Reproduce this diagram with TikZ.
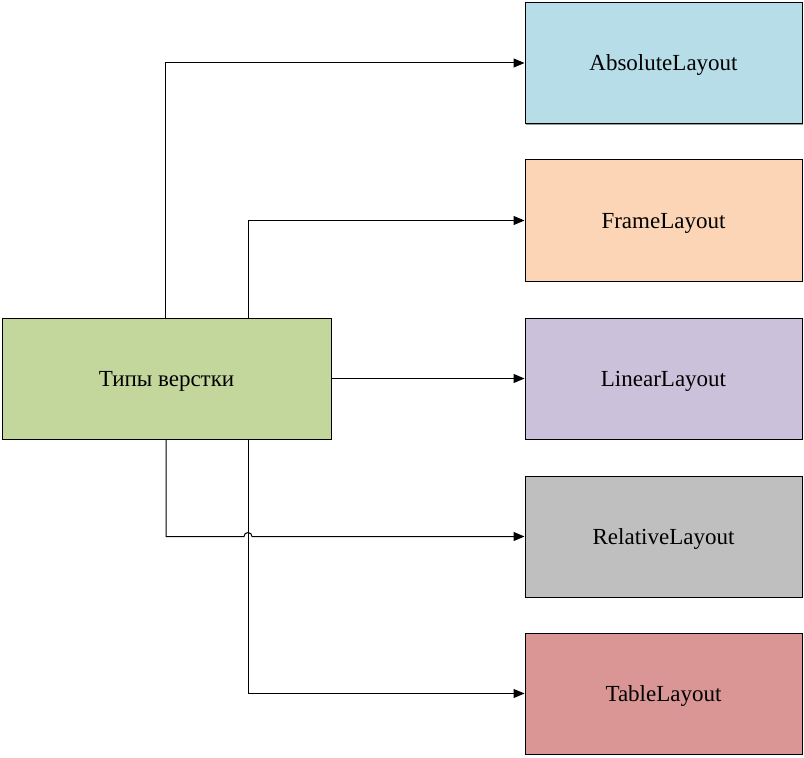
\documentclass[tikz,border=0pt]{standalone}
\usepackage{fontspec}
\setmainfont{Liberation Serif}
\usetikzlibrary{arrows.meta,shadows}
\definecolor{mainc}{HTML}{C3D69B}
\definecolor{absc}{HTML}{B7DDE8}
\definecolor{framec}{HTML}{FBD5B5}
\definecolor{linc}{HTML}{CCC1DA}
\definecolor{relc}{HTML}{BFBFBF}
\definecolor{tabc}{HTML}{D99694}
\tikzset{
	layoutbox/.style={draw=black,line width=0.5pt,minimum width=138.5pt,minimum height=60.5pt,inner sep=0pt,
		text height=10pt,text depth=2.5pt,font=\fontsize{11.5}{14}\selectfont,
		drop shadow={shadow xshift=0.6pt,shadow yshift=-0.6pt,fill=black!40,opacity=1}},
	link/.style={line width=0.5pt,black,-{Triangle[length=5.5pt,width=4.5pt]}}
}
\begin{document}
\begin{tikzpicture}[x=0.5pt,y=0.5pt]
	\useasboundingbox (0,0) rectangle (804,757);
	\node[layoutbox,fill=mainc,minimum width=164.5pt] (main) at (166.5,378.5) {Типы верстки};
	\foreach \name/\txt/\col/\y in {abs/AbsoluteLayout/absc/694,frame/FrameLayout/framec/536.5,
		lin/LinearLayout/linc/378.5,rel/RelativeLayout/relc/220.5,tab/TableLayout/tabc/63.5}{
		\node[layoutbox,fill=\col] (\name) at (663.5,\y) {\txt};}
	\coordinate (hop) at ([xshift=40.75pt]main.south |- rel.west);
	\draw[link] ([xshift=-0.75pt]main.north) |- (abs.west);
	\draw[link] ([xshift=40.75pt]main.north) |- (frame.west);
	\draw[link] (main.east) -- (lin.west);
	\draw[link] ([xshift=-0.25pt]main.south) |- ([xshift=-2pt]hop) arc (180:0:2pt) -- (rel.west);
	\draw[link] ([xshift=40.75pt]main.south) |- (tab.west);
\end{tikzpicture}
\end{document}
